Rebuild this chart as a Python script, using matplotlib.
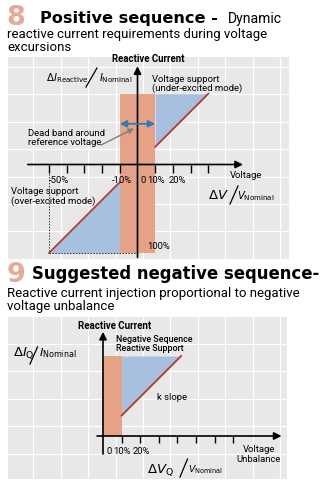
import matplotlib
matplotlib.use("Agg")
import matplotlib.pyplot as plt
from matplotlib.lines import Line2D

# ---------------- data ----------------
# Chart 8: positive sequence (x: dV/Vnom in %, y: dI/Inom in %)
pos_ticks = [-50, -40, -30, -20, -10, 10, 20, 30, 40]
pos_tick_labels = {-50: "-50%", -10: "-10%", 0: "0", 10: "10%", 20: "20%"}
pos_deadband = [-10, 10]
pos_band_y = [-50, 40]
under_x = [10, 40]
under_y = [10, 40]
over_x = [-50, -10]
over_y = [-50, -10]

# Chart 9: negative sequence (x: dVq/Vnom in %, y: dIq/Inom in %)
neg_ticks = [10, 20, 30, 40, 50, 60, 70]
neg_tick_labels = {0: "0", 10: "10%", 20: "20%"}
neg_deadband = [0, 10]
neg_band_top = 43
k_x = [10, 42]
k_y = [11, 43]

# ---------------- style ----------------
W, H = 330, 481
SALMON = "#e6a996"
ORANGE = "#e5a287"
BLUE = "#a8c0df"
RED = "#b53a30"
ARROW_BLUE = "#2f7cbc"
PANEL = "#e8e8e8"
BODY = "Roboto"
TITLE = "DejaVu Sans"

fig = plt.figure(figsize=(W / 100, H / 100), dpi=100)
fig.patch.set_facecolor("white")

def pix_axes(zorder):
    a = fig.add_axes([0, 0, 1, 1], zorder=zorder)
    a.set_xlim(0, W)
    a.set_ylim(H, 0)
    a.axis("off")
    a.patch.set_alpha(0)
    return a

bg = pix_axes(0)

# panels + white grid
def panel(x0, x1, y0, y1, hlines):
    bg.add_patch(plt.Rectangle((x0, y0), x1 - x0, y1 - y0, facecolor=PANEL, edgecolor="none"))
    gx = 33.3
    while gx < x1 - 3:
        bg.add_line(Line2D([gx, gx], [y0, y1], color="white", lw=0.9))
        gx += 27.4
    for gy in hlines:
        bg.add_line(Line2D([x0, x1], [gy, gy], color="white", lw=0.9))

panel(8, 289, 58, 261, [68 + 27.4 * k for k in range(8)])
panel(8, 287, 318, 480, [345 + 27.4 * k for k in range(5)])

# ---------------- chart axes ----------------
def data_axes(box, X0, Y0, S, z):
    x0, x1, y0, y1 = box
    a = fig.add_axes([x0 / W, 1 - y1 / H, (x1 - x0) / W, (y1 - y0) / H], zorder=z)
    a.set_xlim((x0 - X0) / S, (x1 - X0) / S)
    a.set_ylim((Y0 - y1) / S, (Y0 - y0) / S)
    a.axis("off")
    a.patch.set_alpha(0)
    return a

S1 = 1.77
ax1 = data_axes((8, 289, 58, 261), 137.5, 165.5, S1, 1)

ax1.fill_between(pos_deadband, pos_band_y[0], pos_band_y[1], color=ORANGE, lw=0, zorder=1)
ax1.fill_between(under_x, under_y, pos_band_y[1], color=BLUE, lw=0, zorder=1)
ax1.fill_between(over_x, pos_band_y[0], over_y, color=BLUE, lw=0, zorder=1)
ax1.plot(under_x, under_y, color=RED, lw=1.3, zorder=3)
ax1.plot(over_x, over_y, color=RED, lw=1.3, zorder=3)
ax1.plot([over_x[0], over_x[0]], [0, pos_band_y[0]], color="#333333", lw=0.7, ls=(0, (1.5, 1.5)), zorder=2)
ax1.plot([over_x[0], 0], [pos_band_y[0], pos_band_y[0]], color="#333333", lw=0.7, ls=(0, (1.5, 1.5)), zorder=2)
# axes with arrows
ax1.annotate("", xy=(59.6, 0), xytext=(-62, 0),
             arrowprops=dict(arrowstyle="-|>", color="black", lw=1.2, mutation_scale=11, shrinkA=0, shrinkB=0), zorder=4)
ax1.annotate("", xy=(0, 55.5), xytext=(0, -52.5),
             arrowprops=dict(arrowstyle="-|>", color="black", lw=1.2, mutation_scale=11, shrinkA=0, shrinkB=0), zorder=4)
ax1.vlines(pos_ticks, -5.0, 0, color="black", lw=1.0, zorder=4)
# dead band double arrow
ax1.annotate("", xy=(pos_deadband[1], 23), xytext=(pos_deadband[0], 23),
             arrowprops=dict(arrowstyle="<|-|>", color=ARROW_BLUE, lw=1.3, mutation_scale=10, shrinkA=0, shrinkB=0), zorder=5)

S2 = 1.86
ax2 = data_axes((8, 287, 318, 480), 103, 437, S2, 1)
ax2.fill_between(neg_deadband, 0, neg_band_top, color=ORANGE, lw=0, zorder=1)
ax2.fill_between(k_x, k_y, neg_band_top, color=BLUE, lw=0, zorder=1)
ax2.plot(k_x, k_y, color=RED, lw=1.3, zorder=3)
ax2.annotate("", xy=(96, 0), xytext=(-3.2, 0),
             arrowprops=dict(arrowstyle="-|>", color="black", lw=1.2, mutation_scale=11, shrinkA=0, shrinkB=0), zorder=4)
ax2.annotate("", xy=(0, 56), xytext=(0, -9.7),
             arrowprops=dict(arrowstyle="-|>", color="black", lw=1.2, mutation_scale=11, shrinkA=0, shrinkB=0), zorder=4)
ax2.vlines(neg_ticks, -3.8, 0, color="black", lw=1.0, zorder=4)

# ---------------- text overlay ----------------
tx = pix_axes(5)
fig.canvas.draw()
R = fig.canvas.get_renderer()

def put(s, x, y, w=None, size=7, ha="left", va="baseline", family=BODY, **kw):
    t = tx.text(x, y, s, fontsize=size, ha=ha, va=va, family=family, **kw)
    if w:
        bb = t.get_window_extent(R)
        t.set_fontsize(size * w / bb.width)
    return t

def fit_size(s, w, size=7, family=BODY, **kw):
    t = tx.text(0, 0, s, fontsize=size, family=family, **kw)
    bb = t.get_window_extent(R)
    t.remove()
    return size * w / bb.width

def slash(x0, y0, x1, y1):
    tx.add_line(Line2D([x0, x1], [y0, y1], color="black", lw=0.9))

# Titles
put("8", 6.5, 25, size=19.5, family=TITLE, weight="bold", color=SALMON)
put("Positive sequence -", 40, 23.3, w=178, family=TITLE, weight="bold")
put("Dynamic", 228, 23.3, w=54)
s_body = fit_size("reactive current requirements during voltage", 261)
put("reactive current requirements during voltage", 7, 37.8, size=s_body)
put("excursions", 7, 51, size=s_body)

put("9", 6.5, 282.5, size=19.5, family=TITLE, weight="bold", color=SALMON)
put("Suggested negative sequence-", 32, 279, w=290, family=TITLE, weight="bold")
put("Reactive current injection proportional to negative", 7, 297.5, size=s_body)
put("voltage unbalance", 7, 310.5, size=s_body)

# Chart 8 labels
put("Reactive Current", 112, 62.3, w=73, weight="bold")
put(r"$\Delta I_{\mathrm{Reactive}}$", 46.5, 81.7, w=43, family="DejaVu Sans")
slash(86, 88, 97, 69)
put(r"$I_{\mathrm{Nominal}}$", 99, 81.7, w=34, family="DejaVu Sans")

s_lab = fit_size("(under-excited mode)", 91)
put("Voltage support", 152, 81.5, size=s_lab)
put("(under-excited mode)", 152, 90.5, size=s_lab)
put("Dead band around", 28, 136, size=s_lab)
put("reference voltage", 28, 145.5, size=s_lab)
tx.annotate("", xy=(134, 129.5), xytext=(101, 146),
            arrowprops=dict(arrowstyle="-|>", color="#7f7f7f", lw=1.0, mutation_scale=8, shrinkA=0, shrinkB=0))
put("Voltage support", 11, 194, size=s_lab)
put("(over-excited mode)", 11, 203.5, size=s_lab)

def px1(v):
    return 137.5 + S1 * v

tick_y1 = 183
put(pos_tick_labels[-50], px1(-50), tick_y1, size=s_lab)
put(pos_tick_labels[-10], px1(-10) + 2, tick_y1, size=s_lab, ha="center")
put(pos_tick_labels[0], 140.5, tick_y1, size=s_lab)
put(pos_tick_labels[10], 147, tick_y1, size=s_lab)
put(pos_tick_labels[20], 168.5, tick_y1, size=s_lab)
put("Voltage", 230, 178, size=s_lab)
put(r"$\Delta V$", 208, 199, size=9.5, family="DejaVu Sans")
slash(230, 205, 238, 187)
put(r"$V_{\mathrm{Nominal}}$", 237, 199, w=38, family="DejaVu Sans")
put("100%", 147, 249, size=s_lab)

# Chart 9 labels
put("Reactive Current", 78, 329, w=74, weight="bold")
s_neg = fit_size("Negative Sequence", 77, weight="medium")
put("Negative Sequence", 116, 342, size=s_neg, weight="medium")
put("Reactive Support", 116, 351.5, size=s_neg, weight="medium")
put(r"$\Delta I_{\mathrm{Q}}$", 13, 356, size=9.5, family="DejaVu Sans")
slash(30, 365, 37.5, 348)
put(r"$I_{\mathrm{Nominal}}$", 39, 356, w=38, family="DejaVu Sans")
put("k slope", 157, 400, size=s_lab)

def px2(v):
    return 103 + S2 * v

tick_y2 = 454
put(neg_tick_labels[0], 106.5, tick_y2, size=s_lab)
put(neg_tick_labels[10], 113, tick_y2, size=s_lab)
put(neg_tick_labels[20], 133, tick_y2, size=s_lab)
put("Voltage", 259, 452, size=s_lab, ha="center")
put("Unbalance", 259, 462.5, size=s_lab, ha="center")
put(r"$\Delta V_{\mathrm{Q}}$", 147, 473, size=9.5, family="DejaVu Sans")
slash(180, 478, 187.5, 460)
put(r"$V_{\mathrm{Nominal}}$", 188, 473, w=35, family="DejaVu Sans")

fig.savefig("out.png", dpi=100, facecolor="white")
